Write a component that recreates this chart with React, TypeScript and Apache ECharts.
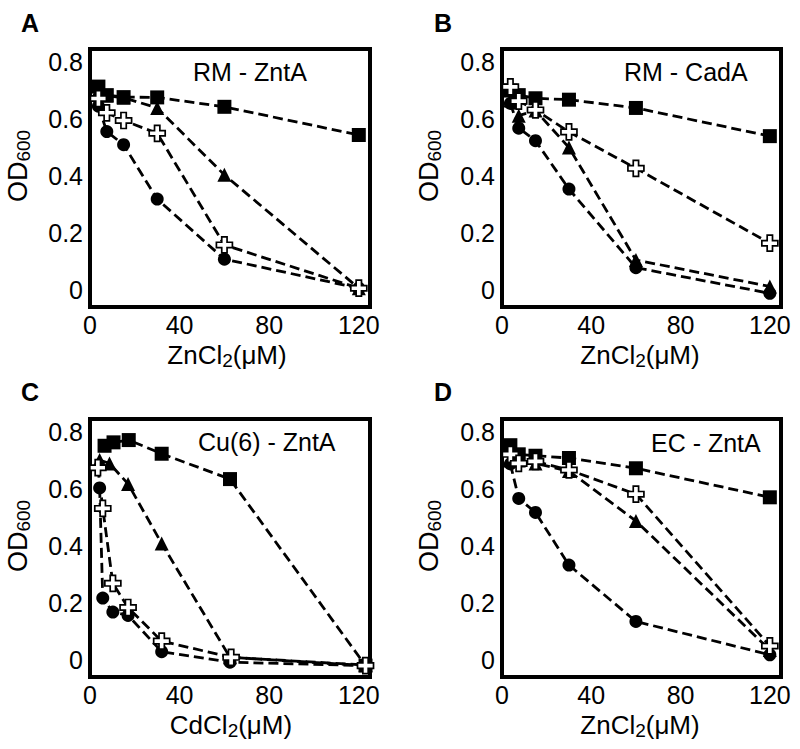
import React, { useEffect, useRef } from 'react';
import * as echarts from 'echarts';

const FONT = '"Liberation Sans", Arial, Helvetica, sans-serif';

// ---------- data ----------
const xTicks = [0, 40, 80, 120];
const yTicks = [0, 0.2, 0.4, 0.6, 0.8];

// Panel A: RM - ZntA (ZnCl2)
const aX = [3.75, 7.5, 15, 30, 60, 120];
const aSquare = [0.714, 0.684, 0.677, 0.676, 0.643, 0.544];
const aTriangle = [0.70, 0.682, 0.675, 0.639, 0.404, 0.006];
const aCross = [0.672, 0.622, 0.595, 0.550, 0.158, 0.006];
const aCircle = [0.645, 0.556, 0.510, 0.319, 0.108, 0.006];

// Panel B: RM - CadA (ZnCl2)
const bX = [3.75, 7.5, 15, 30, 60, 120];
const bSquare = [0.700, 0.684, 0.673, 0.668, 0.639, 0.540];
const bTriangle = [0.665, 0.612, 0.630, 0.500, 0.105, 0.012];
const bCross = [0.713, 0.663, 0.632, 0.555, 0.427, 0.164];
const bCircle = [0.655, 0.568, 0.524, 0.354, 0.078, -0.012];

// Panel C: Cu(6) - ZntA (CdCl2)
const cSquareX = [6.5, 10.5, 17.3, 32, 62.5, 123];
const cSquare = [0.752, 0.764, 0.772, 0.724, 0.635, -0.02];
const cTriangleX = [4.3, 8.7, 17, 32, 62.5, 123];
const cTriangle = [0.702, 0.690, 0.618, 0.409, 0.009, -0.018];
const cCrossX = [3.5, 5.7, 10.2, 17, 32, 63, 123];
const cCross = [0.675, 0.532, 0.269, 0.184, 0.066, 0.009, -0.02];
const cCircleX = [4.3, 5.7, 10.2, 17, 32, 62.5, 123];
const cCircle = [0.604, 0.217, 0.168, 0.156, 0.029, -0.008, -0.02];

// Panel D: EC - ZntA (ZnCl2)
const dX = [3.75, 7.5, 15, 30, 60, 120];
const dSquare = [0.754, 0.722, 0.717, 0.709, 0.673, 0.571];
const dTriangle = [0.700, 0.700, 0.690, 0.663, 0.488, 0.035];
const dCross = [0.722, 0.690, 0.697, 0.667, 0.582, 0.049];
const dCircle = [0.688, 0.567, 0.518, 0.333, 0.135, 0.018];

const panelLetters = ['A', 'B', 'C', 'D'];
const panelTitles = ['RM - ZntA', 'RM - CadA', 'Cu(6) - ZntA', 'EC - ZntA'];
const xTitles = ['ZnCl', 'ZnCl', 'CdCl', 'ZnCl'];

// ---------- layout ----------
const grids = [
  { left: 90, top: 49, width: 280, height: 258 },
  { left: 502, top: 49, width: 279, height: 258 },
  { left: 90, top: 419, width: 280, height: 258 },
  { left: 502, top: 419, width: 279, height: 258 },
];
const titlePos = [
  { x: 193, y: 72 },
  { x: 624, y: 72 },
  { x: 198, y: 442 },
  { x: 651, y: 443 },
];
const letterPos = [
  { x: 21, y: 23 },
  { x: 434, y: 23 },
  { x: 21, y: 392 },
  { x: 434, y: 392 },
];
const yTitlePos = [
  { x: 18, y: 166 },
  { x: 429, y: 166 },
  { x: 18, y: 536 },
  { x: 429, y: 536 },
];
const xTitlePos = [
  { x: 227, y: 355 },
  { x: 640, y: 355 },
  { x: 231, y: 725 },
  { x: 640, y: 725 },
];

const CROSS = 'path://M5,0H10V5H15V10H10V15H5V10H0V5H5Z';

const zip = (xs: number[], ys: number[]) => xs.map((x, i) => [x, ys[i]]);

function makeSeries(i: number, kind: string, xs: number[], ys: number[]) {
  const base: any = {
    type: 'line',
    xAxisIndex: i,
    yAxisIndex: i,
    data: zip(xs, ys),
    silent: true,
    lineStyle: { color: '#000', width: 2.8, type: [10, 5] },
    itemStyle: { color: '#000' },
    emphasis: { disabled: true },
  };
  if (kind === 'square') {
    base.symbol = 'rect';
    base.symbolSize = 14;
  } else if (kind === 'triangle') {
    base.symbol = 'triangle';
    base.symbolSize = 14;
  } else if (kind === 'circle') {
    base.symbol = 'circle';
    base.symbolSize = 13;
  } else {
    base.symbol = CROSS;
    base.symbolSize = 16;
    base.itemStyle = { color: '#fff', borderColor: '#000', borderWidth: 1.7 };
  }
  return base;
}

export default function App() {
  const ref = useRef<HTMLDivElement>(null);
  useEffect(() => {
    document.body.style.margin = '0';
    if (!ref.current) return;
    const chart = echarts.init(ref.current, undefined, { renderer: 'svg' });

    const panels = [
      [
        ['triangle', aX, aTriangle],
        ['circle', aX, aCircle],
        ['square', aX, aSquare],
        ['cross', aX, aCross],
      ],
      [
        ['triangle', bX, bTriangle],
        ['circle', bX, bCircle],
        ['square', bX, bSquare],
        ['cross', bX, bCross],
      ],
      [
        ['triangle', cTriangleX, cTriangle],
        ['circle', cCircleX, cCircle],
        ['square', cSquareX, cSquare],
        ['cross', cCrossX, cCross],
      ],
      [
        ['triangle', dX, dTriangle],
        ['circle', dX, dCircle],
        ['square', dX, dSquare],
        ['cross', dX, dCross],
      ],
    ];

    const series: any[] = [];
    panels.forEach((p, i) => {
      p.forEach((s: any) => series.push(makeSeries(i, s[0], s[1], s[2])));
    });

    const labelStyle = { fontSize: 25, color: '#000', fontFamily: FONT };

    const graphic: any[] = [];
    for (let i = 0; i < 4; i++) {
      graphic.push({
        type: 'text',
        x: letterPos[i].x,
        y: letterPos[i].y,
        z: 100,
        style: {
          text: panelLetters[i],
          fontSize: 25,
          fontWeight: 'bold',
          fontFamily: FONT,
          fill: '#000',
          align: 'left',
          verticalAlign: 'middle',
        },
      });
      graphic.push({
        type: 'text',
        x: titlePos[i].x,
        y: titlePos[i].y,
        z: 100,
        style: {
          text: panelTitles[i],
          fontSize: 25,
          fontFamily: FONT,
          fill: '#000',
          align: 'left',
          verticalAlign: 'middle',
        },
      });
      graphic.push({
        type: 'text',
        x: yTitlePos[i].x,
        y: yTitlePos[i].y,
        rotation: Math.PI / 2,
        z: 100,
        style: {
          text: '{a|OD}{b|600}',
          align: 'center',
          verticalAlign: 'middle',
          fill: '#000',
          rich: {
            a: { fontSize: 27, fontFamily: FONT, lineHeight: 30, fill: '#000' },
            b: { fontSize: 19, fontFamily: FONT, lineHeight: 14, verticalAlign: 'bottom', fill: '#000' },
          },
        },
      });
      graphic.push({
        type: 'text',
        x: xTitlePos[i].x,
        y: xTitlePos[i].y,
        z: 100,
        style: {
          text: `{a|${xTitles[i]}}{b|2}{a|(μM)}`,
          align: 'center',
          verticalAlign: 'middle',
          fill: '#000',
          rich: {
            a: { fontSize: 26, fontFamily: FONT, lineHeight: 30, fill: '#000' },
            b: { fontSize: 19, fontFamily: FONT, lineHeight: 14, verticalAlign: 'bottom', fill: '#000' },
          },
        },
      });
    }

    chart.setOption({
      animation: false,
      backgroundColor: '#fff',
      grid: grids.map((g) => ({
        ...g,
        show: true,
        borderColor: '#000',
        borderWidth: 4,
        backgroundColor: 'transparent',
        containLabel: false,
        outerBoundsMode: 'none',
      })),
      xAxis: grids.map((_, i) => ({
        gridIndex: i,
        type: 'value',
        min: 0,
        max: 125,
        axisLine: { show: false },
        axisTick: { show: false },
        splitLine: { show: false },
        axisLabel: { ...labelStyle, margin: 5, customValues: xTicks },
      })),
      yAxis: grids.map((_, i) => ({
        gridIndex: i,
        type: 'value',
        min: -0.06,
        max: 0.846,
        axisLine: { show: false },
        axisTick: { show: false },
        splitLine: { show: false },
        axisLabel: {
          ...labelStyle,
          margin: 7,
          customValues: yTicks,
          formatter: (v: number) => (v === 0 ? '0' : v.toFixed(1)),
        },
      })),
      series,
      graphic,
    });
    return () => chart.dispose();
  }, []);
  return <div ref={ref} style={{ width: 800, height: 749 }} />;
}
